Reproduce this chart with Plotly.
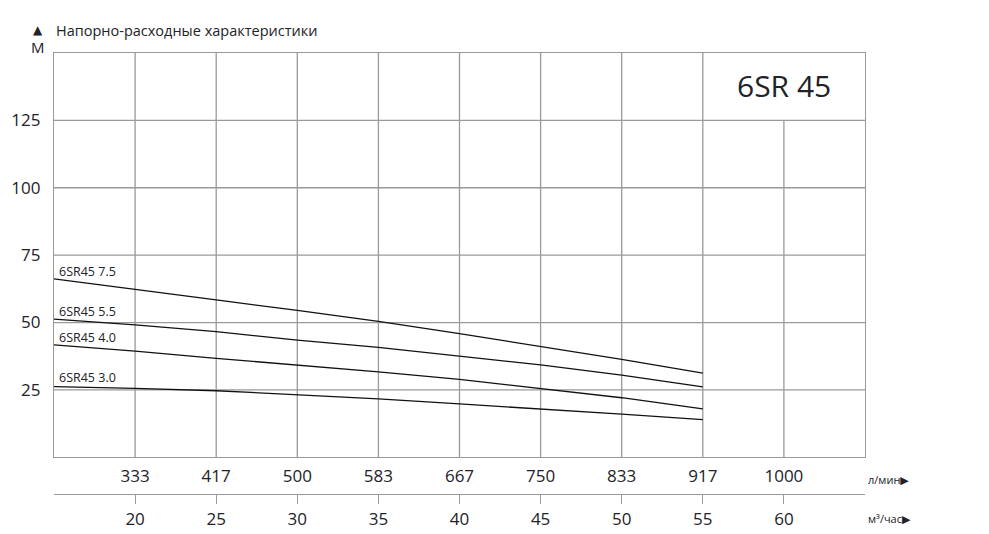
import plotly.graph_objects as go

# ---- data ----
flow_m3h = [15, 20, 25, 30, 35, 40, 45, 50, 55]
head_75 = [66.2, 62.4, 58.4, 54.5, 50.4, 45.9, 41.2, 36.3, 31.2]
head_55 = [51.3, 49.1, 46.6, 43.5, 40.8, 37.6, 34.3, 30.5, 26.1]
head_40 = [41.7, 39.4, 36.7, 34.3, 31.7, 28.9, 25.6, 22.1, 18.0]
head_30 = [26.2, 25.6, 24.7, 23.3, 21.7, 19.8, 18.0, 16.0, 14.0]
series_names = ["6SR45 7.5", "6SR45 5.5", "6SR45 4.0", "6SR45 3.0"]
label_heads = [68.8, 54.0, 44.4, 29.6]

tick_m3h = [20, 25, 30, 35, 40, 45, 50, 55, 60]
tick_lmin = ["333", "417", "500", "583", "667", "750", "833", "917", "1000"]
tick_head = [25, 50, 75, 100, 125]

X_RANGE = [15, 65]
Y_RANGE = [0, 150]
BOX_X = 55
BOX_Y = 125

FONT = "Open Sans"
TXT = "#222228"
GRID = "#9a9a9a"

W, H = 989, 534
L, R, T, B = 54, 124, 53, 40
plot_h = H - T - B
dom_bottom = (494 - 457.3) / plot_h


def px_x(p):
    return (p - L) / (W - L - R)


def px_y(p):
    return (H - B - p) / plot_h


fig = go.Figure()
for name, ys in zip(series_names, [head_75, head_55, head_40, head_30]):
    fig.add_trace(go.Scatter(x=flow_m3h, y=ys, mode="lines", name=name,
                             line=dict(color="#111111", width=1.3),
                             showlegend=False, hoverinfo="skip"))
# invisible trace on secondary x axis
fig.add_trace(go.Scatter(x=[X_RANGE[0]], y=[0], xaxis="x2", yaxis="y",
                         mode="markers", marker=dict(opacity=0),
                         showlegend=False, hoverinfo="skip"))

shapes = []
for v in tick_m3h:
    shapes.append(dict(type="line", xref="x", yref="y", x0=v, x1=v, y0=Y_RANGE[0],
                       y1=(BOX_Y if v > BOX_X else Y_RANGE[1]),
                       line=dict(color=GRID, width=1.3), layer="below"))
for h in tick_head:
    shapes.append(dict(type="line", xref="x", yref="y", x0=X_RANGE[0], x1=X_RANGE[1],
                       y0=h, y1=h, line=dict(color=GRID, width=1.3), layer="below"))

annotations = []
for name, yh in zip(series_names, label_heads):
    annotations.append(dict(x=X_RANGE[0], y=yh, xref="x", yref="y", text=name,
                            showarrow=False, xanchor="left", yanchor="middle", xshift=3,
                            font=dict(family=FONT, size=12.5, color=TXT)))
annotations.append(dict(x=(BOX_X + X_RANGE[1]) / 2, y=(BOX_Y + Y_RANGE[1]) / 2,
                        xref="x", yref="y", text="6SR 45", showarrow=False, yshift=1,
                        font=dict(family=FONT, size=30, color=TXT)))
annotations += [
    dict(x=px_x(38), y=px_y(30), xref="paper", yref="paper", text="▲", showarrow=False,
         xanchor="center", yanchor="middle", font=dict(family="DejaVu Sans", size=12, color=TXT)),
    dict(x=px_x(38), y=px_y(47), xref="paper", yref="paper", text="М", showarrow=False,
         xanchor="center", yanchor="middle", font=dict(family=FONT, size=15, color=TXT)),
    dict(x=px_x(54), y=px_y(30), xref="paper", yref="paper", text="Напорно-расходные характеристики",
         showarrow=False, xanchor="left", yanchor="middle", font=dict(family=FONT, size=14.5, color=TXT)),
    dict(x=px_x(866), y=px_y(479), xref="paper", yref="paper",
         text="л/мин<span style='font-family:DejaVu Sans;font-size:11px'>▶</span>",
         showarrow=False, xanchor="left", yanchor="middle", font=dict(family=FONT, size=11, color=TXT)),
    dict(x=px_x(866), y=px_y(518), xref="paper", yref="paper",
         text="м³/час<span style='font-family:DejaVu Sans;font-size:11px'>▶</span>",
         showarrow=False, xanchor="left", yanchor="middle", font=dict(family=FONT, size=11, color=TXT)),
]

fig.update_layout(
    width=W, height=H,
    margin=dict(l=L, r=R, t=T, b=B, pad=0, autoexpand=False),
    paper_bgcolor="white", plot_bgcolor="white",
    shapes=shapes, annotations=annotations,
    xaxis=dict(range=X_RANGE, tickvals=tick_m3h, ticktext=tick_lmin, showgrid=False,
               zeroline=False, showline=True, linecolor=GRID, linewidth=1.3, mirror=True,
               ticks="", ticklabelstandoff=3, tickfont=dict(family=FONT, size=17, color=TXT),
               anchor="y", fixedrange=True, automargin=False),
    xaxis2=dict(range=X_RANGE, tickvals=tick_m3h, ticktext=[str(v) for v in tick_m3h],
                overlaying="x", anchor="free", position=0, side="bottom", showgrid=False,
                zeroline=False, showline=True, linecolor=GRID, linewidth=1.3,
                ticks="outside", ticklen=9, tickcolor=GRID, tickwidth=1.3,
                tickfont=dict(family=FONT, size=17, color=TXT), fixedrange=True,
                automargin=False),
    yaxis=dict(range=Y_RANGE, domain=[dom_bottom, 1], tickvals=tick_head,
               showgrid=False, zeroline=False, showline=True, linecolor=GRID, linewidth=1.3,
               mirror=True, ticks="", ticklabelstandoff=9,
               tickfont=dict(family=FONT, size=17, color=TXT), fixedrange=True,
               automargin=False),
    font=dict(family=FONT, color=TXT),
)

fig.write_html("out.html", config={"displayModeBar": False},
               post_script="document.body.style.margin='0';document.body.style.overflow='hidden';")
